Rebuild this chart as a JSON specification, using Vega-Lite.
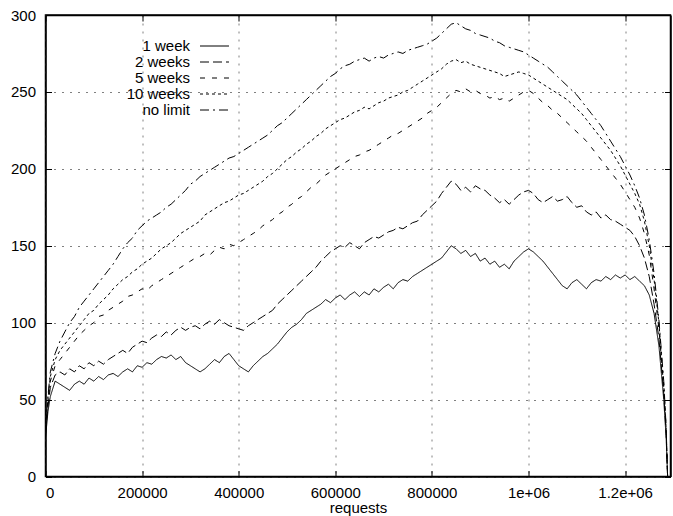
{
  "$schema": "https://vega.github.io/schema/vega-lite/v6.json",
  "autosize": "none",
  "padding": {"left": 45.5, "top": 15, "right": 2, "bottom": 40},
  "width": 625,
  "height": 461.5,
  "background": "white",
  "config": {
    "font": "Liberation Sans",
    "view": {"stroke": "black", "strokeWidth": 1.5},
    "axis": {
      "domainColor": "black", "domainWidth": 1.5,
      "grid": true, "gridColor": "#808080", "gridDash": [2, 6], "gridWidth": 1,
      "tickColor": "black", "tickSize": -6, "tickWidth": 1,
      "labelFont": "Liberation Sans", "labelFontSize": 15, "labelColor": "black",
      "titleFont": "Liberation Sans", "titleFontSize": 15, "titleFontWeight": "normal", "titleColor": "black"
    },
    "legend": {
      "orient": "none", "legendX": 161.5, "legendY": 23.5, "padding": 0,
      "symbolType": "M-2.07,0L2.07,0", "symbolSize": 196, "symbolStrokeWidth": 1, "symbolStrokeColor": "black", "symbolFillColor": "transparent",
      "labelAlign": "right", "labelOffset": -32, "labelFont": "Liberation Sans", "labelFontSize": 15, "labelColor": "black",
      "rowPadding": 0
    }
  },
  "data": {"values": [
    {"x":0,"1 week":25,"2 weeks":28,"5 weeks":30,"10 weeks":30,"no limit":30},
    {"x":5000,"1 week":42,"2 weeks":45,"5 weeks":48,"10 weeks":50,"no limit":52},
    {"x":10000,"1 week":52,"2 weeks":58,"5 weeks":62,"10 weeks":65,"no limit":68},
    {"x":20000,"1 week":62,"2 weeks":66,"5 weeks":72,"10 weeks":76,"no limit":80},
    {"x":30000,"1 week":60,"2 weeks":68,"5 weeks":76,"10 weeks":82,"no limit":88},
    {"x":40000,"1 week":58,"2 weeks":66,"5 weeks":80,"10 weeks":86,"no limit":94},
    {"x":50000,"1 week":56,"2 weeks":70,"5 weeks":84,"10 weeks":90,"no limit":100},
    {"x":60000,"1 week":60,"2 weeks":68,"5 weeks":88,"10 weeks":94,"no limit":104},
    {"x":70000,"1 week":62,"2 weeks":72,"5 weeks":92,"10 weeks":98,"no limit":110},
    {"x":80000,"1 week":60,"2 weeks":70,"5 weeks":95,"10 weeks":102,"no limit":114},
    {"x":90000,"1 week":64,"2 weeks":74,"5 weeks":98,"10 weeks":106,"no limit":118},
    {"x":100000,"1 week":62,"2 weeks":72,"5 weeks":100,"10 weeks":108,"no limit":122},
    {"x":110000,"1 week":65,"2 weeks":75,"5 weeks":104,"10 weeks":112,"no limit":126},
    {"x":120000,"1 week":63,"2 weeks":73,"5 weeks":105,"10 weeks":115,"no limit":130},
    {"x":130000,"1 week":66,"2 weeks":76,"5 weeks":108,"10 weeks":118,"no limit":134},
    {"x":140000,"1 week":67,"2 weeks":78,"5 weeks":110,"10 weeks":122,"no limit":138},
    {"x":150000,"1 week":65,"2 weeks":80,"5 weeks":112,"10 weeks":125,"no limit":143},
    {"x":160000,"1 week":68,"2 weeks":82,"5 weeks":114,"10 weeks":128,"no limit":148},
    {"x":170000,"1 week":70,"2 weeks":80,"5 weeks":117,"10 weeks":130,"no limit":152},
    {"x":180000,"1 week":68,"2 weeks":84,"5 weeks":118,"10 weeks":133,"no limit":155},
    {"x":190000,"1 week":72,"2 weeks":86,"5 weeks":120,"10 weeks":135,"no limit":160},
    {"x":200000,"1 week":71,"2 weeks":88,"5 weeks":122,"10 weeks":138,"no limit":163},
    {"x":210000,"1 week":74,"2 weeks":87,"5 weeks":121,"10 weeks":140,"no limit":166},
    {"x":220000,"1 week":73,"2 weeks":90,"5 weeks":124,"10 weeks":142,"no limit":168},
    {"x":230000,"1 week":76,"2 weeks":92,"5 weeks":126,"10 weeks":145,"no limit":170},
    {"x":240000,"1 week":78,"2 weeks":91,"5 weeks":128,"10 weeks":148,"no limit":172},
    {"x":250000,"1 week":77,"2 weeks":94,"5 weeks":130,"10 weeks":150,"no limit":175},
    {"x":260000,"1 week":79,"2 weeks":92,"5 weeks":132,"10 weeks":152,"no limit":177},
    {"x":270000,"1 week":76,"2 weeks":95,"5 weeks":134,"10 weeks":155,"no limit":180},
    {"x":280000,"1 week":78,"2 weeks":97,"5 weeks":136,"10 weeks":158,"no limit":183},
    {"x":290000,"1 week":74,"2 weeks":95,"5 weeks":138,"10 weeks":160,"no limit":186},
    {"x":300000,"1 week":72,"2 weeks":97,"5 weeks":140,"10 weeks":162,"no limit":190},
    {"x":310000,"1 week":70,"2 weeks":98,"5 weeks":142,"10 weeks":164,"no limit":192},
    {"x":320000,"1 week":68,"2 weeks":96,"5 weeks":143,"10 weeks":166,"no limit":195},
    {"x":330000,"1 week":70,"2 weeks":99,"5 weeks":145,"10 weeks":170,"no limit":197},
    {"x":340000,"1 week":73,"2 weeks":101,"5 weeks":144,"10 weeks":172,"no limit":199},
    {"x":350000,"1 week":76,"2 weeks":99,"5 weeks":147,"10 weeks":174,"no limit":201},
    {"x":360000,"1 week":74,"2 weeks":102,"5 weeks":149,"10 weeks":176,"no limit":203},
    {"x":370000,"1 week":78,"2 weeks":100,"5 weeks":148,"10 weeks":178,"no limit":205},
    {"x":380000,"1 week":80,"2 weeks":98,"5 weeks":151,"10 weeks":179,"no limit":207},
    {"x":390000,"1 week":76,"2 weeks":97,"5 weeks":150,"10 weeks":181,"no limit":208},
    {"x":400000,"1 week":72,"2 weeks":96,"5 weeks":152,"10 weeks":183,"no limit":210},
    {"x":410000,"1 week":70,"2 weeks":95,"5 weeks":154,"10 weeks":184,"no limit":212},
    {"x":420000,"1 week":68,"2 weeks":98,"5 weeks":156,"10 weeks":186,"no limit":214},
    {"x":430000,"1 week":72,"2 weeks":100,"5 weeks":158,"10 weeks":188,"no limit":216},
    {"x":440000,"1 week":75,"2 weeks":102,"5 weeks":160,"10 weeks":190,"no limit":218},
    {"x":450000,"1 week":78,"2 weeks":104,"5 weeks":163,"10 weeks":192,"no limit":220},
    {"x":460000,"1 week":80,"2 weeks":106,"5 weeks":165,"10 weeks":195,"no limit":222},
    {"x":470000,"1 week":83,"2 weeks":108,"5 weeks":167,"10 weeks":197,"no limit":225},
    {"x":480000,"1 week":86,"2 weeks":112,"5 weeks":170,"10 weeks":200,"no limit":228},
    {"x":490000,"1 week":90,"2 weeks":115,"5 weeks":172,"10 weeks":203,"no limit":230},
    {"x":500000,"1 week":94,"2 weeks":118,"5 weeks":175,"10 weeks":206,"no limit":233},
    {"x":510000,"1 week":97,"2 weeks":121,"5 weeks":177,"10 weeks":208,"no limit":236},
    {"x":520000,"1 week":99,"2 weeks":124,"5 weeks":180,"10 weeks":211,"no limit":239},
    {"x":530000,"1 week":102,"2 weeks":127,"5 weeks":182,"10 weeks":213,"no limit":242},
    {"x":540000,"1 week":106,"2 weeks":130,"5 weeks":185,"10 weeks":216,"no limit":245},
    {"x":550000,"1 week":108,"2 weeks":133,"5 weeks":188,"10 weeks":218,"no limit":248},
    {"x":560000,"1 week":110,"2 weeks":136,"5 weeks":190,"10 weeks":221,"no limit":251},
    {"x":570000,"1 week":112,"2 weeks":140,"5 weeks":193,"10 weeks":223,"no limit":254},
    {"x":580000,"1 week":115,"2 weeks":143,"5 weeks":196,"10 weeks":226,"no limit":257},
    {"x":590000,"1 week":113,"2 weeks":146,"5 weeks":198,"10 weeks":228,"no limit":260},
    {"x":600000,"1 week":116,"2 weeks":148,"5 weeks":200,"10 weeks":230,"no limit":262},
    {"x":610000,"1 week":118,"2 weeks":150,"5 weeks":202,"10 weeks":232,"no limit":265},
    {"x":620000,"1 week":115,"2 weeks":149,"5 weeks":204,"10 weeks":233,"no limit":267},
    {"x":630000,"1 week":118,"2 weeks":152,"5 weeks":206,"10 weeks":235,"no limit":268},
    {"x":640000,"1 week":120,"2 weeks":150,"5 weeks":208,"10 weeks":237,"no limit":270},
    {"x":650000,"1 week":117,"2 weeks":148,"5 weeks":209,"10 weeks":238,"no limit":271},
    {"x":660000,"1 week":120,"2 weeks":152,"5 weeks":211,"10 weeks":240,"no limit":272},
    {"x":670000,"1 week":118,"2 weeks":154,"5 weeks":212,"10 weeks":239,"no limit":270},
    {"x":680000,"1 week":122,"2 weeks":156,"5 weeks":214,"10 weeks":241,"no limit":272},
    {"x":690000,"1 week":120,"2 weeks":155,"5 weeks":216,"10 weeks":243,"no limit":273},
    {"x":700000,"1 week":123,"2 weeks":157,"5 weeks":218,"10 weeks":244,"no limit":272},
    {"x":710000,"1 week":125,"2 weeks":159,"5 weeks":220,"10 weeks":246,"no limit":274},
    {"x":720000,"1 week":122,"2 weeks":160,"5 weeks":222,"10 weeks":247,"no limit":275},
    {"x":730000,"1 week":126,"2 weeks":162,"5 weeks":223,"10 weeks":248,"no limit":276},
    {"x":740000,"1 week":128,"2 weeks":161,"5 weeks":225,"10 weeks":250,"no limit":275},
    {"x":750000,"1 week":127,"2 weeks":163,"5 weeks":227,"10 weeks":251,"no limit":277},
    {"x":760000,"1 week":130,"2 weeks":165,"5 weeks":229,"10 weeks":253,"no limit":278},
    {"x":770000,"1 week":132,"2 weeks":166,"5 weeks":231,"10 weeks":255,"no limit":279},
    {"x":780000,"1 week":134,"2 weeks":170,"5 weeks":233,"10 weeks":257,"no limit":280},
    {"x":790000,"1 week":136,"2 weeks":173,"5 weeks":236,"10 weeks":259,"no limit":281},
    {"x":800000,"1 week":138,"2 weeks":176,"5 weeks":238,"10 weeks":261,"no limit":283},
    {"x":810000,"1 week":140,"2 weeks":179,"5 weeks":240,"10 weeks":263,"no limit":285},
    {"x":820000,"1 week":142,"2 weeks":184,"5 weeks":243,"10 weeks":265,"no limit":288},
    {"x":830000,"1 week":146,"2 weeks":188,"5 weeks":246,"10 weeks":268,"no limit":291},
    {"x":840000,"1 week":150,"2 weeks":192,"5 weeks":249,"10 weeks":270,"no limit":294},
    {"x":850000,"1 week":148,"2 weeks":190,"5 weeks":251,"10 weeks":271,"no limit":295},
    {"x":860000,"1 week":145,"2 weeks":186,"5 weeks":250,"10 weeks":269,"no limit":293},
    {"x":870000,"1 week":147,"2 weeks":188,"5 weeks":252,"10 weeks":270,"no limit":291},
    {"x":880000,"1 week":143,"2 weeks":185,"5 weeks":250,"10 weeks":268,"no limit":290},
    {"x":890000,"1 week":145,"2 weeks":189,"5 weeks":251,"10 weeks":267,"no limit":288},
    {"x":900000,"1 week":140,"2 weeks":187,"5 weeks":249,"10 weeks":266,"no limit":287},
    {"x":910000,"1 week":142,"2 weeks":186,"5 weeks":248,"10 weeks":265,"no limit":286},
    {"x":920000,"1 week":138,"2 weeks":183,"5 weeks":246,"10 weeks":264,"no limit":285},
    {"x":930000,"1 week":140,"2 weeks":181,"5 weeks":247,"10 weeks":263,"no limit":283},
    {"x":940000,"1 week":136,"2 weeks":178,"5 weeks":245,"10 weeks":262,"no limit":282},
    {"x":950000,"1 week":138,"2 weeks":180,"5 weeks":246,"10 weeks":260,"no limit":280},
    {"x":960000,"1 week":135,"2 weeks":177,"5 weeks":244,"10 weeks":261,"no limit":279},
    {"x":970000,"1 week":140,"2 weeks":180,"5 weeks":246,"10 weeks":262,"no limit":278},
    {"x":980000,"1 week":143,"2 weeks":183,"5 weeks":248,"10 weeks":263,"no limit":277},
    {"x":990000,"1 week":146,"2 weeks":185,"5 weeks":250,"10 weeks":262,"no limit":276},
    {"x":1000000,"1 week":148,"2 weeks":186,"5 weeks":251,"10 weeks":261,"no limit":274},
    {"x":1010000,"1 week":146,"2 weeks":184,"5 weeks":249,"10 weeks":259,"no limit":272},
    {"x":1020000,"1 week":143,"2 weeks":180,"5 weeks":246,"10 weeks":257,"no limit":270},
    {"x":1030000,"1 week":140,"2 weeks":178,"5 weeks":243,"10 weeks":255,"no limit":268},
    {"x":1040000,"1 week":136,"2 weeks":180,"5 weeks":241,"10 weeks":253,"no limit":266},
    {"x":1050000,"1 week":132,"2 weeks":182,"5 weeks":238,"10 weeks":251,"no limit":263},
    {"x":1060000,"1 week":128,"2 weeks":179,"5 weeks":236,"10 weeks":249,"no limit":260},
    {"x":1070000,"1 week":124,"2 weeks":180,"5 weeks":233,"10 weeks":247,"no limit":257},
    {"x":1080000,"1 week":122,"2 weeks":182,"5 weeks":230,"10 weeks":245,"no limit":254},
    {"x":1090000,"1 week":126,"2 weeks":178,"5 weeks":227,"10 weeks":242,"no limit":251},
    {"x":1100000,"1 week":128,"2 weeks":175,"5 weeks":224,"10 weeks":239,"no limit":248},
    {"x":1110000,"1 week":125,"2 weeks":176,"5 weeks":221,"10 weeks":236,"no limit":244},
    {"x":1120000,"1 week":122,"2 weeks":172,"5 weeks":218,"10 weeks":232,"no limit":240},
    {"x":1130000,"1 week":126,"2 weeks":170,"5 weeks":214,"10 weeks":228,"no limit":236},
    {"x":1140000,"1 week":128,"2 weeks":172,"5 weeks":210,"10 weeks":224,"no limit":232},
    {"x":1150000,"1 week":127,"2 weeks":168,"5 weeks":206,"10 weeks":220,"no limit":228},
    {"x":1160000,"1 week":130,"2 weeks":170,"5 weeks":202,"10 weeks":216,"no limit":223},
    {"x":1170000,"1 week":128,"2 weeks":167,"5 weeks":198,"10 weeks":212,"no limit":218},
    {"x":1180000,"1 week":131,"2 weeks":166,"5 weeks":194,"10 weeks":207,"no limit":213},
    {"x":1190000,"1 week":129,"2 weeks":164,"5 weeks":190,"10 weeks":202,"no limit":208},
    {"x":1200000,"1 week":131,"2 weeks":162,"5 weeks":185,"10 weeks":196,"no limit":202},
    {"x":1210000,"1 week":128,"2 weeks":160,"5 weeks":180,"10 weeks":190,"no limit":196},
    {"x":1220000,"1 week":130,"2 weeks":156,"5 weeks":175,"10 weeks":184,"no limit":189},
    {"x":1230000,"1 week":127,"2 weeks":150,"5 weeks":168,"10 weeks":177,"no limit":181},
    {"x":1240000,"1 week":124,"2 weeks":142,"5 weeks":158,"10 weeks":166,"no limit":170},
    {"x":1250000,"1 week":118,"2 weeks":130,"5 weeks":144,"10 weeks":150,"no limit":154},
    {"x":1260000,"1 week":106,"2 weeks":112,"5 weeks":122,"10 weeks":128,"no limit":132},
    {"x":1270000,"1 week":85,"2 weeks":90,"5 weeks":96,"10 weeks":100,"no limit":102},
    {"x":1280000,"1 week":50,"2 weeks":54,"5 weeks":58,"10 weeks":60,"no limit":62},
    {"x":1285000,"1 week":25,"2 weeks":28,"5 weeks":30,"10 weeks":31,"no limit":32},
    {"x":1288000,"1 week":0,"2 weeks":0,"5 weeks":0,"10 weeks":0,"no limit":0}
  ]},
  "transform": [{"fold": ["1 week", "2 weeks", "5 weeks", "10 weeks", "no limit"], "as": ["series", "value"]}],
  "layer": [
    {
      "mark": {"type": "line", "color": "black", "strokeWidth": 1, "clip": true},
      "encoding": {
        "x": {"field": "x", "type": "quantitative", "title": "requests",
              "scale": {"domain": [0, 1294000], "nice": false, "zero": false},
              "axis": {"values": [0, 200000, 400000, 600000, 800000, 1000000, 1200000],
                       "labelExpr": "datum.value == 1000000 ? '1e+06' : datum.value == 1200000 ? '1.2e+06' : format(datum.value, 'd')",
                       "labelPadding": 15, "titlePadding": 0}},
        "y": {"field": "value", "type": "quantitative", "title": null,
              "scale": {"domain": [0, 300], "nice": false},
              "axis": {"values": [0, 50, 100, 150, 200, 250, 300], "labelPadding": 16}},
        "strokeDash": {"field": "series", "type": "nominal", "title": null,
                       "scale": {"domain": ["1 week", "2 weeks", "5 weeks", "10 weeks", "no limit"],
                                 "range": [[1, 0], [9, 4], [5, 7], [3, 3], [9, 4, 2, 4]]}}
      }
    },
    {
      "mark": {"type": "line", "opacity": 0},
      "encoding": {
        "x": {"field": "x", "type": "quantitative",
              "scale": {"domain": [0, 1294000], "nice": false, "zero": false},
              "axis": {"orient": "top", "values": [0, 200000, 400000, 600000, 800000, 1000000, 1200000], "labels": false, "grid": false, "title": null}},
        "y": {"field": "value", "type": "quantitative",
              "scale": {"domain": [0, 300], "nice": false},
              "axis": {"orient": "right", "values": [0, 50, 100, 150, 200, 250, 300], "labels": false, "grid": false, "title": null}},
        "detail": {"field": "series"}
      }
    }
  ],
  "resolve": {"scale": {"x": "independent", "y": "independent"}, "axis": {"x": "independent", "y": "independent"}}
}
